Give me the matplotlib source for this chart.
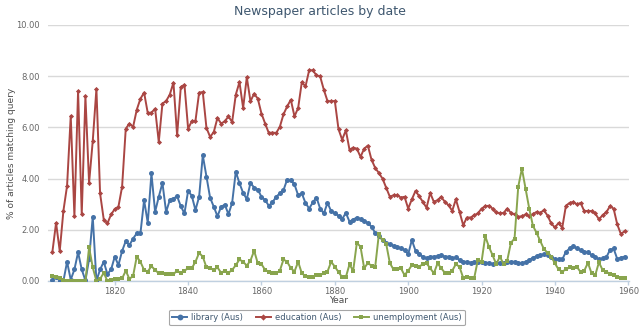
import matplotlib
matplotlib.use('Agg')
import matplotlib.pyplot as plt
from matplotlib.lines import Line2D

years = list(range(1803, 1960))

library = [
    0.04, 0.17, 0.00, 0.00, 0.75, 0.05, 0.45, 1.12, 0.45, 0.02,
    0.85, 2.51, 0.00, 0.45, 0.75, 0.27, 0.45, 0.95, 0.62, 1.17,
    1.56, 1.40, 1.66, 1.86, 1.86, 3.16, 2.27, 4.20, 2.70, 3.29,
    3.83, 2.70, 3.16, 3.22, 3.31, 2.92, 2.64, 3.52, 3.33, 2.77,
    3.29, 4.91, 4.07, 3.25, 2.90, 2.53, 2.90, 2.98, 2.61, 3.05,
    4.27, 3.82, 3.44, 3.20, 3.83, 3.65, 3.57, 3.29, 3.16, 2.94,
    3.07, 3.29, 3.42, 3.55, 3.96, 3.94, 3.77, 3.35, 3.42, 3.05,
    2.83, 3.07, 3.26, 2.83, 2.64, 3.05, 2.73, 2.64, 2.55, 2.42,
    2.66, 2.32, 2.40, 2.48, 2.42, 2.35, 2.27, 2.12, 1.88, 1.75,
    1.60, 1.47, 1.43, 1.38, 1.34, 1.27, 1.21, 1.05, 1.60, 1.18,
    1.05, 0.95, 0.88, 0.95, 0.95, 0.97, 1.01, 0.95, 0.95, 0.88,
    0.92, 0.82, 0.75, 0.75, 0.71, 0.75, 0.75, 0.75, 0.71, 0.71,
    0.66, 0.69, 0.71, 0.71, 0.75, 0.75, 0.75, 0.71, 0.69, 0.75,
    0.82, 0.91, 0.97, 1.01, 1.04, 1.01, 0.95, 0.84, 0.84, 0.84,
    1.14, 1.27, 1.36, 1.27, 1.21, 1.14, 1.12, 1.01, 0.95, 0.84,
    0.88, 0.92, 1.21, 1.27, 0.86, 0.91, 0.95,
]

education = [
    1.14, 2.27, 1.17, 2.74, 3.72, 6.45, 2.53, 7.42, 2.61, 7.21,
    3.83, 5.47, 7.51, 3.42, 2.40, 2.25, 2.60, 2.81, 2.90, 3.68,
    5.95, 6.15, 6.02, 6.69, 7.12, 7.36, 6.56, 6.58, 6.73, 5.43,
    6.93, 7.03, 7.28, 7.75, 5.69, 7.57, 7.67, 5.95, 6.24, 6.25,
    7.36, 7.38, 5.98, 5.63, 5.82, 6.37, 6.15, 6.24, 6.43, 6.21,
    7.28, 7.77, 6.76, 7.96, 7.02, 7.32, 7.12, 6.54, 6.15, 5.78,
    5.80, 5.78, 6.02, 6.51, 6.82, 7.08, 6.43, 6.76, 7.77, 7.60,
    8.23, 8.23, 8.03, 7.99, 7.47, 7.03, 7.02, 7.03, 5.93, 5.52,
    5.89, 5.13, 5.21, 5.17, 4.85, 5.17, 5.29, 4.74, 4.42, 4.22,
    4.00, 3.64, 3.29, 3.35, 3.35, 3.26, 3.29, 2.83, 3.19, 3.52,
    3.31, 3.09, 2.86, 3.44, 3.09, 3.16, 3.29, 3.09, 2.96, 2.74,
    3.19, 2.70, 2.18, 2.48, 2.48, 2.57, 2.64, 2.83, 2.92, 2.94,
    2.83, 2.68, 2.64, 2.66, 2.83, 2.66, 2.60, 2.51, 2.53, 2.60,
    2.53, 2.61, 2.70, 2.66, 2.77, 2.55, 2.25, 2.09, 2.27, 2.08,
    2.94, 3.05, 3.09, 2.99, 3.05, 2.73, 2.74, 2.73, 2.64, 2.41,
    2.57, 2.68, 2.92, 2.83, 2.21, 1.83, 1.95,
]

unemployment = [
    0.19, 0.17, 0.10, 0.02, 0.00, 0.00, 0.00, 0.00, 0.00, 0.00,
    1.31, 0.53, 0.00, 0.08, 0.32, 0.00, 0.02, 0.06, 0.06, 0.10,
    0.40, 0.08, 0.20, 0.95, 0.75, 0.43, 0.37, 0.58, 0.43, 0.30,
    0.30, 0.27, 0.27, 0.27, 0.40, 0.30, 0.40, 0.50, 0.50, 0.75,
    1.10, 0.95, 0.53, 0.50, 0.43, 0.53, 0.32, 0.40, 0.32, 0.43,
    0.62, 0.84, 0.75, 0.60, 0.80, 1.18, 0.69, 0.66, 0.43, 0.37,
    0.30, 0.30, 0.40, 0.84, 0.75, 0.50, 0.37, 0.75, 0.30, 0.19,
    0.15, 0.17, 0.23, 0.23, 0.30, 0.37, 0.75, 0.56, 0.35, 0.15,
    0.15, 0.65, 0.40, 1.49, 1.34, 0.50, 0.70, 0.60, 0.55, 1.82,
    1.60, 1.45, 0.70, 0.45, 0.45, 0.50, 0.23, 0.40, 0.62, 0.58,
    0.56, 0.66, 0.69, 0.50, 0.30, 0.69, 0.50, 0.32, 0.30, 0.40,
    0.66, 0.55, 0.12, 0.15, 0.12, 0.12, 0.82, 0.75, 1.75, 1.34,
    1.01, 0.66, 0.95, 0.66, 0.80, 1.49, 1.66, 3.68, 4.39, 3.61,
    2.83, 2.16, 1.88, 1.56, 1.25, 1.10, 0.95, 0.69, 0.45, 0.37,
    0.45, 0.53, 0.50, 0.55, 0.35, 0.40, 0.71, 0.30, 0.23, 0.73,
    0.43, 0.37, 0.27, 0.23, 0.17, 0.12, 0.12,
]

series_names = ['library (Aus)', 'education (Aus)', 'unemployment (Aus)']
series_colors = ['#4572A7', '#AA4643', '#89A54E']
series_markers = ['o', 'D', 's']
series_msize = [3.6, 2.6, 2.8]

x_ticks = [1820, 1840, 1860, 1880, 1900, 1920, 1940, 1960]
y_ticks = [0, 2, 4, 6, 8, 10]

plt.rcParams['font.family'] = ['DejaVu Sans']

fig = plt.figure(figsize=(6.4, 3.3), dpi=100)
ax = fig.add_axes([48 / 640, 49 / 330, 581 / 640, 256 / 330])

for vals, name, col, mk, ms in zip([library, education, unemployment],
                                   series_names, series_colors,
                                   series_markers, series_msize):
    ax.plot(years, vals, color=col, lw=1.4, marker=mk, ms=ms,
            markeredgewidth=0, label=name, zorder=3)

ax.set_xlim(1801.8, 1960.2)
ax.set_ylim(0, 10)
ax.set_xticks(x_ticks)
ax.set_yticks(y_ticks)
ax.set_yticklabels(['%.2f' % v for v in y_ticks])
ax.yaxis.grid(True, color='#d9d9d9', lw=1)
ax.set_axisbelow(True)
for s in ['top', 'right', 'left']:
    ax.spines[s].set_visible(False)
ax.spines['bottom'].set_color('#C0D0E0')
ax.spines['bottom'].set_linewidth(1)
ax.tick_params(axis='x', colors='#C0D0E0', length=3, width=1,
               labelcolor='#666666', labelsize=6, pad=1.5)
ax.tick_params(axis='y', length=0, labelcolor='#666666', labelsize=6, pad=6)

fig.text(0.5, 1 - 12 / 330, 'Newspaper articles by date', ha='center',
         va='center', color='#3E576F', fontsize=9)
fig.text(12 / 640, 1 - 153 / 330, '% of articles matching query',
         rotation=90, ha='center', va='center', color='#4d4d4d', fontsize=6.5)
fig.text(339 / 640, 1 - 300.5 / 330, 'Year', ha='center', va='center',
         color='#4d4d4d', fontsize=6.5)

handles = [Line2D([0], [0], color=c, lw=1.4, marker=m, ms=ms + 0.6,
                  markeredgewidth=0)
           for c, m, ms in zip(series_colors, series_markers, series_msize)]
leg = fig.legend(handles, series_names, loc='center',
                 bbox_to_anchor=(317 / 640, 1 - 317.5 / 330), ncol=3,
                 fontsize=6, frameon=True, handlelength=1.8,
                 columnspacing=1.5, handletextpad=0.5, borderpad=0.4,
                 fancybox=True)
leg.get_frame().set_edgecolor('#909090')
leg.get_frame().set_linewidth(0.8)
for t in leg.get_texts():
    t.set_color('#3E576F')

fig.savefig('out.png', dpi=100)
